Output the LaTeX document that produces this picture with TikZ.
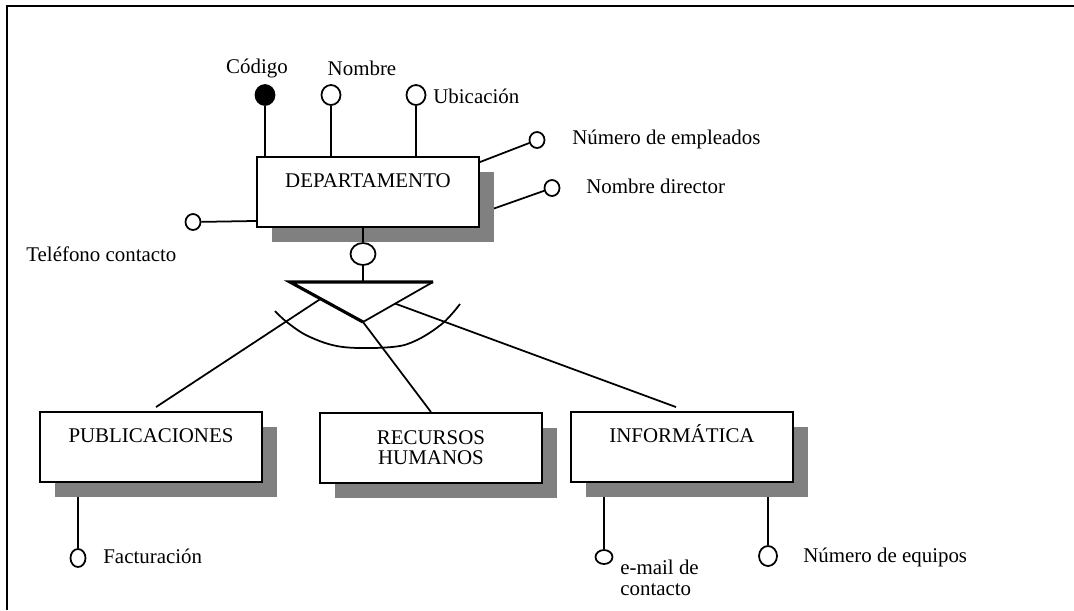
\documentclass[tikz,border=0pt]{standalone}
\usepackage{fontspec}
\setmainfont{Liberation Serif}
\usetikzlibrary{shapes,shadows}
\usetikzlibrary{calc,positioning,backgrounds}

\begin{document}
\begin{tikzpicture}[x=0.02cm,y=-0.02cm,font=\fontsize{11.9}{11.4}\selectfont]
    \tikzstyle{entity} = [draw, line width=1.1pt, fill=white, minimum width=4.44cm, minimum height=1.4cm, general shadow={fill=black!50, shadow xshift=0.3cm, shadow yshift=-0.3cm}]
    \tikzstyle{uptext} = [text height=0.28cm, text depth=0.46cm]
    \tikzstyle{attr} = [ellipse, draw, line width=1pt, fill=white, inner sep=0pt, minimum width=0.38cm, minimum height=0.4cm]
    \tikzstyle{small} = [attr, minimum width=0.3cm, minimum height=0.32cm]
    \tikzstyle{txt} = [inner sep=0pt]
    \tikzstyle{link} = [line width=1pt]

    \useasboundingbox (0,0) rectangle (1074,610);
    \draw[line width=1pt] (7,610) -- (7,6) -- (1074,6);

    % Supertype .........................
    \node[entity, uptext] (dep) at (368,192) {DEPARTAMENTO};

    \node[attr, fill=black] (cod) at (265,95) {};
    \node[attr] (nom) at (331,95) {};
    \node[attr] (ubi) at (416,95) {};
    \node[small] (nemp) at (537,140) {};
    \node[small] (ndir) at (552,188) {};
    \node[small] (tel) at (193,222) {};

    \node[txt, anchor=base] (lcod) at (257,73) {Código};
    \node[txt, anchor=base] (lnom) at (362,75) {Nombre};
    \node[txt, anchor=base west] (lubi) at (433,103) {Ubicación};
    \node[txt, anchor=base west] (lnemp) at (572,144) {Número de empleados};
    \node[txt, anchor=base west] (lndir) at (586,193) {Nombre director};
    \node[txt, anchor=base west] (ltel) at (26,261) {Teléfono contacto};

    \draw[link] (cod) -- (cod |- dep.north);
    \draw[link] (nom) -- (nom |- dep.north);
    \draw[link] (ubi) -- (ubi |- dep.north);
    \draw[link] ([yshift=-0.12cm]dep.north east) -- (nemp);
    \draw[link] ([yshift=0.14cm]dep.south west) -- (tel);
    \begin{scope}[on background layer]
        \draw[link] ([xshift=-0.2cm,yshift=-0.5cm]dep.east) -- (ndir);
    \end{scope}

    % Hierarchy .........................
    \node[attr, minimum width=0.5cm, minimum height=0.44cm] (sub) at (363,254) {};
    \draw[link] (sub |- dep.south) -- (sub);

    \coordinate (tl) at (290,282);
    \coordinate (tr) at (433,282);
    \coordinate (ap) at (363,322);
    \draw[link] (sub) -- (sub |- tl);
    \draw[line width=1.8pt] (tr) -- (tl) -- (ap);
    \draw[link] (ap) -- (tr);
    \draw[link] plot[smooth, tension=0.6] coordinates {(275,311) (288,323) (310,337) (343,347) (392,347) (417,340) (443,323) (460,304)};

    % Subtypes .........................
    \node[entity, uptext] (pub) at (151,447) {PUBLICACIONES};
    \node[entity, align=center] (rh) at (431,448) {RECURSOS\\HUMANOS};
    \node[entity, uptext] (inf) at (682,447) {INFORMÁTICA};

    \draw[link] ($(tl)!0.42!(ap)$) -- ([xshift=0.1cm,yshift=0.08cm]pub.north);
    \draw[link] (ap) -- (rh.north);
    \draw[link] ($(ap)!0.46!(tr)$) -- ([xshift=-0.12cm,yshift=0.08cm]inf.north);

    \node[attr, minimum width=0.3cm, minimum height=0.36cm] (fac) at (78,558) {};
    \node[attr, minimum width=0.34cm, minimum height=0.28cm] (mail) at (604,557) {};
    \node[attr, minimum width=0.36cm, minimum height=0.4cm] (neq) at (768,556) {};

    \node[txt, anchor=base west] (lfac) at (103,563) {Facturación};
    \node[txt, anchor=base west, align=left] (lmail) at (620,595) {e-mail de\\contacto};
    \node[txt, anchor=base west] (lneq) at (803,562) {Número de equipos};

    \begin{scope}[on background layer]
        \draw[link] (fac) -- (fac |- pub.center);
        \draw[link] (mail) -- (mail |- inf.center);
        \draw[link] (neq) -- (neq |- inf.center);
    \end{scope}
\end{tikzpicture}
\end{document}
